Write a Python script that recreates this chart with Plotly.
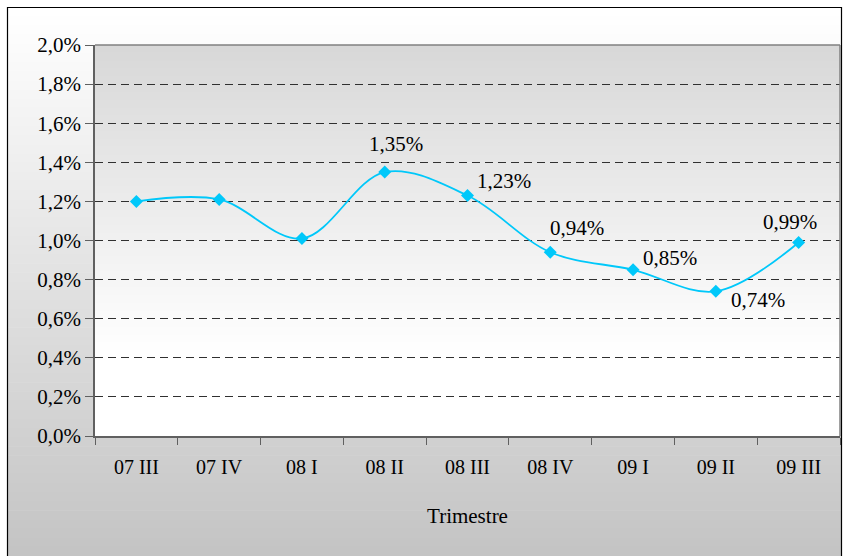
import plotly.graph_objects as go

categories = ["07 III", "07 IV", "08 I", "08 II", "08 III", "08 IV", "09 I", "09 II", "09 III"]
values = [1.20, 1.21, 1.01, 1.35, 1.23, 0.94, 0.85, 0.74, 0.99]
show_label = [False, False, False, True, True, True, True, True, True]
y_ticks = [0.0, 0.2, 0.4, 0.6, 0.8, 1.0, 1.2, 1.4, 1.6, 1.8, 2.0]
y_tick_text = ["0,0%", "0,2%", "0,4%", "0,6%", "0,8%", "1,0%", "1,2%", "1,4%", "1,6%", "1,8%", "2,0%"]

# label offsets in pixels (style, not data)
label_dx = [0, 0, 0, 11, 36, 27, 37, 42, -9]
label_dy = [0, 0, 0, 28, 15, 24, 12, -9, 20]

W, H = 843, 556
L, R, T, B = 95, 3, 45, 120
pw, ph = W - L - R, H - T - B

def px_to_paper_x(px):
    return (px - L) / pw

def px_to_paper_y(py):
    return (H - B - py) / ph

FONT = "Liberation Serif, Times New Roman, serif"

shapes = []
# outer gradient background
n = 60
top_px, bot_px = 7, 556
for i in range(n):
    y0p = top_px + (bot_px - top_px) * i / n
    y1p = top_px + (bot_px - top_px) * (i + 1) / n
    t = (i + 0.5) / n
    c = int(round(255 - (255 - 196) * t))
    shapes.append(dict(type="rect", xref="paper", yref="paper",
                       x0=px_to_paper_x(7), x1=px_to_paper_x(842),
                       y0=px_to_paper_y(y1p + 0.5), y1=px_to_paper_y(y0p),
                       fillcolor=f"rgb({c},{c},{c})", line=dict(width=0), layer="below"))
# plot area gradient
m = 50
for i in range(m):
    t = (i + 0.5) / m
    y1 = 1 - i / m
    y0 = 1 - (i + 1) / m - 0.002
    f = min(t / 0.8, 1.0)
    c = int(round(216 + (255 - 216) * f))
    shapes.append(dict(type="rect", xref="paper", yref="paper",
                       x0=0, x1=1, y0=max(y0, 0), y1=y1,
                       fillcolor=f"rgb({c},{c},{c})", line=dict(width=0), layer="below"))
# outer border
shapes.append(dict(type="rect", xref="paper", yref="paper",
                   x0=px_to_paper_x(7.5), x1=px_to_paper_x(841.5),
                   y0=px_to_paper_y(560), y1=px_to_paper_y(7.5),
                   fillcolor="rgba(0,0,0,0)", line=dict(color="black", width=1.2), layer="above"))
# plot area top/right border
shapes.append(dict(type="line", xref="paper", yref="paper", x0=0, x1=1, y0=1, y1=1,
                   line=dict(color="#808080", width=1.5), layer="above"))
shapes.append(dict(type="line", xref="paper", yref="paper", x0=1, x1=1, y0=0, y1=1,
                   line=dict(color="#808080", width=1.5), layer="above"))

annotations = []
for c, v, s, dx, dy in zip(categories, values, show_label, label_dx, label_dy):
    if not s:
        continue
    annotations.append(dict(x=c, y=v, xref="x", yref="y",
                            text=f"{v:.2f}%".replace(".", ","),
                            showarrow=False, xanchor="center", yanchor="middle",
                            xshift=dx, yshift=dy,
                            font=dict(family=FONT, size=21, color="black")))

fig = go.Figure()
fig.add_trace(go.Scatter(
    x=categories, y=values, mode="lines+markers",
    line=dict(color="#00c8fa", width=1.8, shape="spline", smoothing=1.0),
    marker=dict(symbol="diamond", size=10, color="#00c8fa"),
    cliponaxis=False, hoverinfo="skip",
))

fig.update_layout(
    width=W, height=H,
    margin=dict(l=L, r=R, t=T, b=B),
    paper_bgcolor="white", plot_bgcolor="rgba(0,0,0,0)",
    showlegend=False,
    font=dict(family=FONT, size=19, color="black"),
    shapes=shapes,
    annotations=annotations,
    xaxis=dict(
        range=[-0.5, 8.5], tickmode="array", tickvals=categories, ticktext=categories,
        showline=True, linecolor="#606060", linewidth=1.5,
        ticks="outside", ticklen=7, tickcolor="#606060", tickson="boundaries",
        showgrid=False, zeroline=False,
        tickfont=dict(family=FONT, size=20),
        ticklabelstandoff=12,
        title=dict(text="Trimestre", font=dict(family=FONT, size=21), standoff=32),
    ),
    yaxis=dict(
        range=[0, 2.0], tickmode="array", tickvals=y_ticks, ticktext=y_tick_text,
        showline=True, linecolor="#606060", linewidth=1.5,
        ticks="outside", ticklen=8, tickcolor="#606060",
        showgrid=True, gridcolor="#303030", gridwidth=1, griddash="8px,5px",
        zeroline=False,
        tickfont=dict(family=FONT, size=21),
    ),
)

fig.write_html("out.html", config={"displayModeBar": False},
               post_script="document.body.style.margin='0px';")
